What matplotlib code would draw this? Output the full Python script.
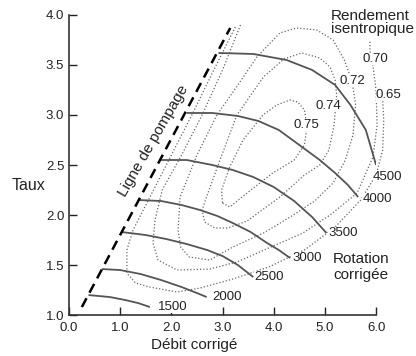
import numpy as np
import matplotlib.pyplot as plt

plt.rcParams['font.family'] = ['Liberation Sans', 'DejaVu Sans']

# surge line (Ligne de pompage)
surge_x = [0.25, 3.15]
surge_y = [1.08, 3.87]

# corrected speed lines
speeds = [1500, 2000, 2500, 3000, 3500, 4000, 4500]
speed_x = [
    [0.38, 0.8, 1.1, 1.35, 1.58],
    [0.64, 1.0, 1.4, 1.8, 2.2, 2.5, 2.69],
    [1.03, 1.5, 1.9, 2.3, 2.7, 3.0, 3.3, 3.6],
    [1.35, 1.8, 2.2, 2.56, 2.9, 3.2, 3.55, 3.87, 4.1, 4.32],
    [1.78, 2.3, 2.8, 3.2, 3.6, 4.0, 4.4, 4.75, 5.03],
    [2.30, 2.8, 3.3, 3.7, 4.1, 4.5, 4.9, 5.2, 5.45, 5.65],
    [2.92, 3.6, 4.25, 4.75, 5.2, 5.5, 5.8, 6.0],
]
speed_y = [
    [1.20, 1.18, 1.15, 1.12, 1.08],
    [1.46, 1.45, 1.41, 1.35, 1.28, 1.22, 1.18],
    [1.83, 1.80, 1.76, 1.71, 1.65, 1.59, 1.50, 1.38],
    [2.15, 2.14, 2.10, 2.05, 1.99, 1.92, 1.83, 1.72, 1.65, 1.57],
    [2.55, 2.55, 2.50, 2.45, 2.38, 2.28, 2.14, 1.98, 1.82],
    [3.02, 3.02, 2.99, 2.94, 2.85, 2.70, 2.55, 2.42, 2.30, 2.18],
    [3.62, 3.61, 3.55, 3.45, 3.30, 3.10, 2.85, 2.50],
]
speed_lbl_x = [1.74, 2.79, 3.62, 4.36, 5.07, 5.74, 5.94]
speed_lbl_y = [1.08, 1.18, 1.38, 1.57, 1.82, 2.16, 2.38]

# isentropic efficiency contours
eff_levels = ['0.75', '0.74', '0.72', '0.70', '0.65']
eff_x = [
    [3.0, 3.14, 3.48, 3.98, 4.4, 4.6, 4.65, 4.6, 4.47, 4.32, 4.06, 3.79, 3.4, 3.14,
     2.98, 3.0],
    [3.28, 2.95, 2.7, 2.6, 2.65, 2.85, 3.1, 3.48, 4.12, 4.6, 4.9, 5.08, 5.18, 5.23,
     5.2, 5.1, 4.9, 4.55, 4.2, 3.8, 3.28],
    [2.89, 2.5, 2.17, 2.13, 2.18, 2.35, 2.75, 3.2, 3.8, 4.32, 4.8, 5.16, 5.4, 5.55,
     5.6, 5.53, 5.38, 5.16, 4.84, 4.45, 4.12, 3.67, 3.3, 2.89],
    [3.35, 3.0, 2.6, 2.2, 1.82, 1.68, 1.64, 1.74, 2.11, 2.75, 3.28, 3.9, 4.57, 5.1,
     5.63, 5.94, 6.02, 6.0, 5.95, 5.88, 5.88],
    [3.25, 2.8, 2.4, 1.95, 1.55, 1.25, 1.13, 1.13, 1.3, 1.58, 2.11, 2.56, 3.2, 3.9,
     4.6, 5.2, 5.7, 6.0, 6.13, 6.15, 6.13],
]
eff_y = [
    [2.12, 2.08, 2.22, 2.42, 2.55, 2.7, 2.88, 3.05, 3.13, 3.15, 3.10, 3.0, 2.75, 2.48,
     2.25, 2.12],
    [3.0, 2.55, 2.2, 2.05, 1.93, 1.87, 1.87, 1.94, 2.18, 2.4, 2.5, 2.65, 2.9, 3.2,
     3.35, 3.48, 3.57, 3.62, 3.56, 3.38, 3.0],
    [3.0, 2.6, 2.18, 1.85, 1.68, 1.58, 1.55, 1.68, 1.82, 1.98, 2.14, 2.32, 2.55, 2.8,
     3.1, 3.34, 3.55, 3.75, 3.85, 3.87, 3.82, 3.58, 3.3, 3.0],
    [3.9, 3.45, 3.0, 2.6, 2.25, 1.95, 1.72, 1.55, 1.45, 1.46, 1.53, 1.67, 1.82, 2.0,
     2.22, 2.58, 2.9, 3.25, 3.45, 3.65, 3.75],
    [3.88, 3.42, 3.0, 2.55, 2.15, 1.85, 1.65, 1.42, 1.32, 1.28, 1.23, 1.27, 1.36, 1.48,
     1.65, 1.88, 2.15, 2.4, 2.65, 2.95, 3.15],
]
eff_lbl_x = [4.63, 5.06, 5.53, 5.98, 6.25]
eff_lbl_y = [2.90, 3.09, 3.34, 3.56, 3.20]

fig = plt.figure(figsize=(4.16, 3.56), dpi=100)
ax = fig.add_axes([0.166, 0.115, 0.738, 0.843])

for xs, ys in zip(eff_x, eff_y):
    ax.plot(xs, ys, color='#666666', lw=0.9, ls=(0, (1, 1.6)), clip_on=False)

for xs, ys in zip(speed_x, speed_y):
    ax.plot(xs, ys, color='#555555', lw=1.3, solid_capstyle='butt')

ax.plot(surge_x, surge_y, color='black', lw=1.8, ls=(0, (4, 2.5)))

for s, lx, ly in zip(speeds, speed_lbl_x, speed_lbl_y):
    ax.text(lx, ly, str(s), fontsize=9.5, color='#222222', va='center', ha='left',
            bbox=dict(fc='white', ec='none', pad=0.3), clip_on=False)

for lv, lx, ly in zip(eff_levels, eff_lbl_x, eff_lbl_y):
    ax.text(lx, ly, lv, fontsize=9.5, color='#222222', va='center', ha='center',
            bbox=dict(fc='white', ec='none', pad=0.3), clip_on=False)

ax.text(5.12, 3.79, 'Rendement\nisentropique', fontsize=11, color='#222222',
        ha='left', va='bottom', linespacing=0.95,
        bbox=dict(fc='white', ec='none', pad=0.3))
ax.text(5.16, 1.48, 'Rotation\ncorrigée', fontsize=11, color='#222222',
        ha='left', va='center', linespacing=1.1,
        bbox=dict(fc='white', ec='none', pad=0.3))
ax.text(1.64, 2.74, 'Ligne de pompage', fontsize=11, color='#222222',
        ha='center', va='center', rotation=60)

ax.set_xlim(0, 6)
ax.set_ylim(1, 4)
ax.set_xticks(np.arange(0, 7, 1.0))
ax.set_yticks(np.arange(1, 4.5, 0.5))
ax.xaxis.set_major_formatter(plt.FormatStrFormatter('%.1f'))
ax.yaxis.set_major_formatter(plt.FormatStrFormatter('%.1f'))
ax.tick_params(direction='in', length=6, width=1, labelsize=9.5, colors='#222222')
ax.tick_params(axis='x', pad=5)
for s in ['top', 'right']:
    ax.spines[s].set_visible(False)
for s in ['left', 'bottom']:
    ax.spines[s].set_linewidth(1.2)
    ax.spines[s].set_color('#333333')

fig.text(0.466, 0.03, 'Débit corrigé', fontsize=11, color='#222222', ha='center', va='center')
fig.text(0.028, 0.48, 'Taux', fontsize=11.5, color='#222222', ha='left', va='center')

fig.savefig('out.png', dpi=100)
